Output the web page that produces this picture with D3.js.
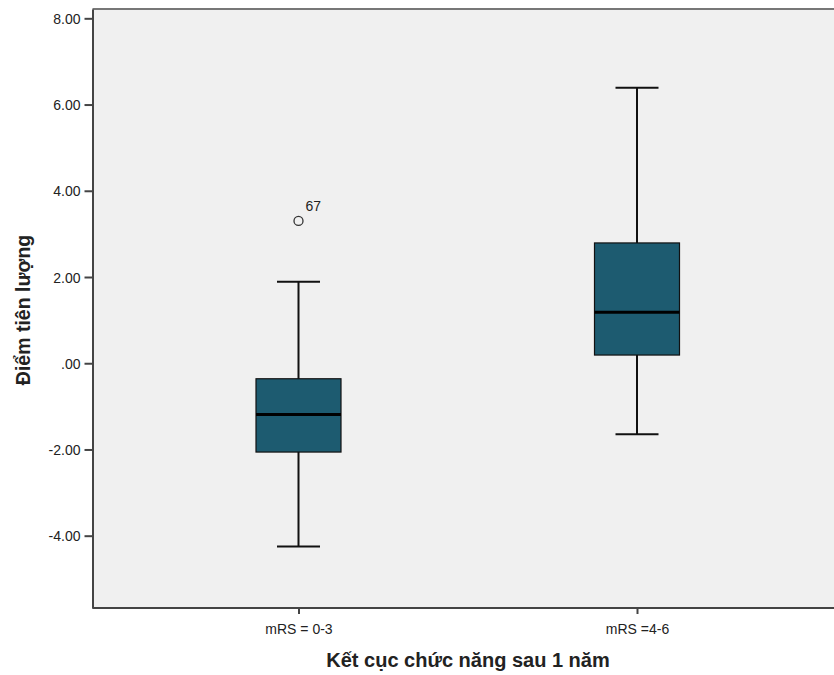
<!DOCTYPE html>
<html>
<head>
<meta charset="utf-8">
<script src="https://cdn.jsdelivr.net/npm/d3@7"></script>
<style>
  html, body { margin: 0; padding: 0; background: #ffffff; }
  svg { display: block; }
  text { font-family: "Liberation Sans", Arial, sans-serif; fill: #222; }
</style>
</head>
<body>
<svg id="chart" width="834" height="675"></svg>
<script>
// Groups and five-number summaries
const categories = ["mRS = 0-3", "mRS =4-6"];
const whiskerLow  = [-4.25, -1.65];
const q1          = [-2.06, 0.19];
const median      = [-1.19, 1.18];
const q3          = [-0.36, 2.79];
const whiskerHigh = [1.89, 6.39];

// Outliers: group index, value, case label
const outlierGroup = [0];
const outlierValue = [3.30];
const outlierLabel = ["67"];

const yTicks = [-4, -2, 0, 2, 4, 6, 8];

const svg = d3.select("#chart");
const plot = { left: 92.5, top: 9, right: 840, bottom: 608 };

const y = d3.scaleLinear().domain([-5.677, 8.216]).range([plot.bottom, plot.top]);
const x = d3.scalePoint().domain(categories).range([298.5, 637]);
const boxW = 85, capW = 43;

// Plot background
svg.append("rect")
  .attr("x", plot.left).attr("y", plot.top)
  .attr("width", plot.right - plot.left).attr("height", plot.bottom - plot.top)
  .attr("fill", "#f0f0f0");

// Top border
svg.append("line")
  .attr("x1", plot.left).attr("x2", plot.right)
  .attr("y1", plot.top).attr("y2", plot.top)
  .attr("stroke", "#777").attr("stroke-width", 2);

// Y axis: plain hyphen for negatives, no leading zero for 0
const fmt = v => v === 0 ? ".00" : v.toFixed(2);
const yAxis = svg.append("g")
  .attr("transform", `translate(${plot.left},0)`)
  .call(d3.axisLeft(y).tickValues(yTicks).tickFormat(fmt).tickSize(8).tickSizeOuter(0));
yAxis.select(".domain").attr("stroke", "#444").attr("stroke-width", 2);
yAxis.selectAll(".tick line").attr("stroke", "#444").attr("stroke-width", 2);
yAxis.selectAll(".tick text")
  .attr("x", -12).attr("dy", "0.36em")
  .style("font-size", "14px").style("font-family", "'Liberation Sans', Arial, sans-serif")
  .attr("fill", "#222");

// X axis
const xAxis = svg.append("g")
  .attr("transform", `translate(0,${plot.bottom})`)
  .call(d3.axisBottom(x).tickSize(6).tickSizeOuter(0));
xAxis.select(".domain").attr("stroke", "#444").attr("stroke-width", 2)
  .attr("d", `M${plot.left},0H${plot.right}`);
xAxis.selectAll(".tick line").attr("stroke", "#444").attr("stroke-width", 2);
xAxis.selectAll(".tick text")
  .attr("y", 26).attr("dy", 0)
  .style("font-size", "14px").style("font-family", "'Liberation Sans', Arial, sans-serif")
  .attr("fill", "#222");

// Axis titles
svg.append("text")
  .attr("x", 468).attr("y", 667)
  .attr("text-anchor", "middle")
  .style("font-size", "20px").style("font-weight", "bold")
  .text("Kết cục chức năng sau 1 năm");

svg.append("text")
  .attr("transform", "translate(30,310) rotate(-90)")
  .attr("text-anchor", "middle")
  .style("font-size", "19.5px").style("font-weight", "bold")
  .text("Điểm tiên lượng");

// Boxes
const groups = svg.append("g").selectAll("g")
  .data(categories.map((c, i) => ({ c, lo: whiskerLow[i], q1: q1[i], med: median[i], q3: q3[i], hi: whiskerHigh[i] })))
  .join("g");

groups.append("line")
  .attr("x1", d => x(d.c)).attr("x2", d => x(d.c))
  .attr("y1", d => y(d.hi)).attr("y2", d => y(d.lo))
  .attr("stroke", "#111").attr("stroke-width", 2);

groups.selectAll(".cap")
  .data(d => [d.lo, d.hi].map(v => ({ c: d.c, v })))
  .join("line").attr("class", "cap")
  .attr("x1", d => x(d.c) - capW / 2).attr("x2", d => x(d.c) + capW / 2)
  .attr("y1", d => y(d.v)).attr("y2", d => y(d.v))
  .attr("stroke", "#111").attr("stroke-width", 2);

groups.append("rect")
  .attr("x", d => x(d.c) - boxW / 2).attr("width", boxW)
  .attr("y", d => y(d.q3)).attr("height", d => y(d.q1) - y(d.q3))
  .attr("fill", "#1d5b70").attr("stroke", "#111").attr("stroke-width", 1.2);

groups.append("line")
  .attr("x1", d => x(d.c) - boxW / 2).attr("x2", d => x(d.c) + boxW / 2)
  .attr("y1", d => y(d.med)).attr("y2", d => y(d.med))
  .attr("stroke", "#000").attr("stroke-width", 3);

// Outliers
const outs = outlierValue.map((v, i) => ({ c: categories[outlierGroup[i]], v, label: outlierLabel[i] }));
svg.append("g").selectAll("circle").data(outs).join("circle")
  .attr("cx", d => x(d.c)).attr("cy", d => y(d.v)).attr("r", 4.5)
  .attr("fill", "none").attr("stroke", "#333").attr("stroke-width", 1.3);
svg.append("g").selectAll("text").data(outs).join("text")
  .attr("x", d => x(d.c) + 7).attr("y", d => y(d.v) - 10)
  .style("font-size", "14px")
  .text(d => d.label);
</script>
</body>
</html>
